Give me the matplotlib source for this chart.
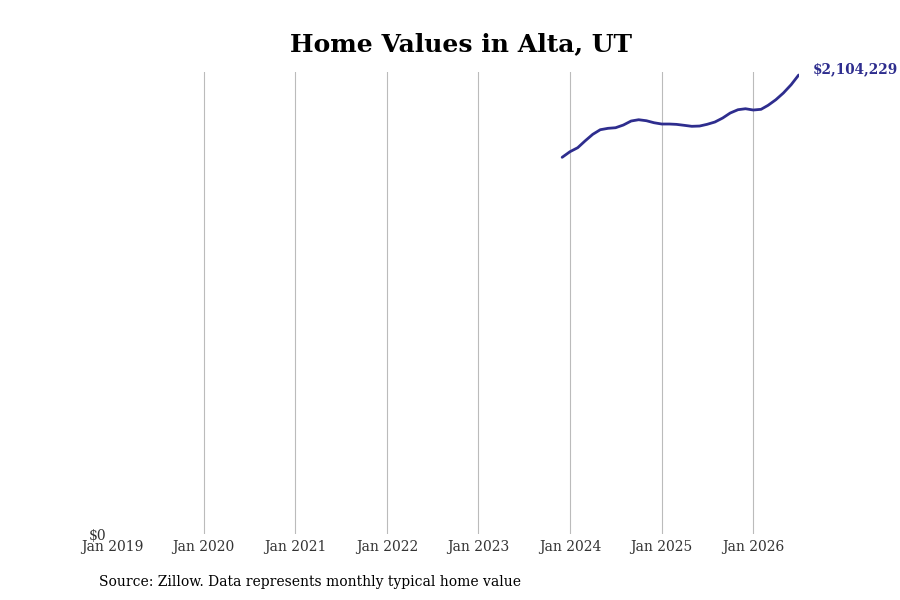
import matplotlib
matplotlib.use("Agg")
import matplotlib.pyplot as plt
import pandas as pd

title = "Home Values in Alta, UT"
source = "Source: Zillow. Data represents monthly typical home value"
start_month = "2023-12-01"
values = [
    1727000, 1752600, 1771000, 1801700, 1832400, 1853500, 1859900, 1862600,
    1875000, 1893400, 1899300, 1894700, 1885600, 1879600, 1879600, 1878000,
    1873600, 1869100, 1870400, 1878200, 1888800, 1907100, 1930000, 1945200,
    1949700, 1943800, 1947000, 1965300, 1991000, 2021700, 2059800, 2104229,
]
tick_years = [2019, 2020, 2021, 2022, 2023, 2024, 2025, 2026]
tick_labels = [f"Jan {y}" for y in tick_years]

dates = pd.date_range(start_month, periods=len(values), freq="MS")

plt.rcParams["font.family"] = ["DejaVu Serif"]
fig = plt.figure(figsize=(9, 6), dpi=100)
ax = fig.add_axes([0.1244, 0.11, 0.763, 0.77])

line_color = "#2e2d8e"
ax.plot(dates, values, color=line_color, linewidth=2.0, solid_capstyle="round")

ax.set_xlim(pd.Timestamp("2019-01-01"), pd.Timestamp("2026-07-01"))
ax.set_ylim(0, max(values) * 1.0066)

ticks = [pd.Timestamp(f"{y}-01-01") for y in tick_years]
ax.set_xticks(ticks)
ax.set_xticklabels(tick_labels)
ax.set_yticks([0])
ax.set_yticklabels(["$0"])
ax.tick_params(axis="both", length=0, labelsize=10, colors="#333333")
ax.tick_params(axis="x", pad=4)
ax.tick_params(axis="y", pad=4)

ax.grid(axis="x", color="#bbbbbb", linewidth=0.8)
ax.grid(axis="y", visible=False)
ax.get_xgridlines()[0].set_visible(False)
for s in ax.spines.values():
    s.set_visible(False)

ax.annotate(f"${values[-1]:,.0f}", xy=(dates[-1], values[-1]), xytext=(10, 4.3),
            textcoords="offset points", color=line_color, fontsize=9.8,
            fontweight="bold", va="center", ha="left", annotation_clip=False)

fig.text(0.512, 0.926, title, ha="center", va="center", fontsize=18,
         fontweight="bold", color="black")
fig.text(0.11, 0.03, source, ha="left", va="center", fontsize=10, color="black")

fig.savefig("out.png", dpi=100)
